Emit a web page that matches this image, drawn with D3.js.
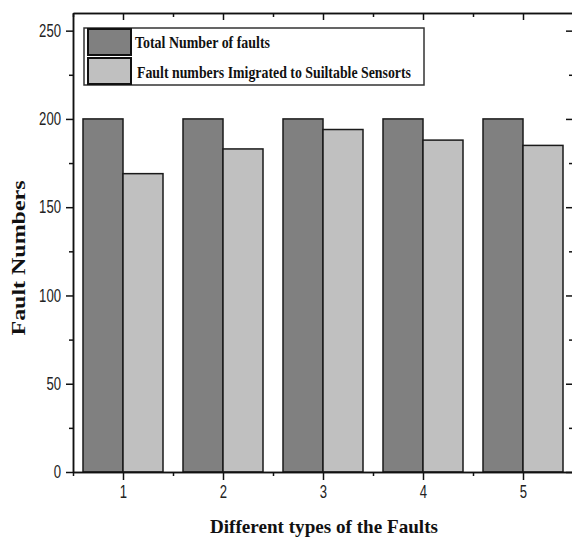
<!DOCTYPE html>
<html>
<head>
<meta charset="utf-8">
<script src="https://cdn.jsdelivr.net/npm/d3@7"></script>
<style>
	body { margin: 0; background: #fff; }
	svg { display: block; }
	.tick text { font-family: "Liberation Sans Narrow", "Arial Narrow", "Liberation Sans", sans-serif; font-size: 18px; fill: #222; }
	.title { font-family: "Liberation Serif", "Times New Roman", serif; font-weight: bold; fill: #111; }
</style>
</head>
<body>
<div id="chart"></div>
<script>
const categories = [1, 2, 3, 4, 5];
const totalFaults = [200, 200, 200, 200, 200];
const migratedFaults = [169, 183, 194, 188, 185];
const yTicks = [0, 50, 100, 150, 200, 250];
const yMinor = [25, 75, 125, 175, 225];
const xMinor = [0.5, 1.5, 2.5, 3.5, 4.5, 5.5];
const seriesNames = ["Total Number of faults", "Fault numbers Imigrated to Suiltable Sensorts"];
const seriesColors = ["#808080", "#c0c0c0"];

let width = 572;
let height = 537;
let margin = { top: 13, right: -1, bottom: 65, left: 73 };

let xScale = d3.scaleLinear()
	.domain([0.5, 5.5])
	.range([margin.left, width - margin.right]);

let yScale = d3.scaleLinear()
	.domain([0, 260])
	.range([height - margin.bottom, margin.top]);

let svg = d3.select("#chart")
	.append("svg")
	.attr("width", width)
	.attr("height", height);

let data = categories.map((c, i) => ({ cat: c, total: totalFaults[i], migrated: migratedFaults[i] }));

// bars
let groups = svg.selectAll("g.bar")
	.data(data)
	.enter()
	.append("g")
	.attr("class", "bar");

groups.append("rect")
	.attr("x", d => xScale(d.cat - 0.4))
	.attr("y", d => yScale(d.total))
	.attr("width", d => xScale(d.cat) - xScale(d.cat - 0.4))
	.attr("height", d => yScale(0) - yScale(d.total))
	.attr("fill", seriesColors[0])
	.attr("stroke", "#1a1a1a")
	.attr("stroke-width", 1.5);

groups.append("rect")
	.attr("x", d => xScale(d.cat))
	.attr("y", d => yScale(d.migrated))
	.attr("width", d => xScale(d.cat + 0.4) - xScale(d.cat))
	.attr("height", d => yScale(0) - yScale(d.migrated))
	.attr("fill", seriesColors[1])
	.attr("stroke", "#1a1a1a")
	.attr("stroke-width", 1.5);

// axes
function styleAxis(g) {
	g.selectAll("path, line").attr("stroke", "#111").attr("stroke-width", 1.5);
	// narrow digits like the original
	g.selectAll("text")
		.attr("textLength", function () { return this.textContent.length * 7.3; })
		.attr("lengthAdjust", "spacingAndGlyphs");
}

svg.append("g")
	.attr("transform", "translate(0," + yScale(0) + ")")
	.call(d3.axisBottom(xScale).tickValues(categories).tickSize(8).tickSizeOuter(0).tickPadding(5).tickFormat(d3.format("d")))
	.call(styleAxis);
svg.append("g")
	.attr("transform", "translate(0," + yScale(0) + ")")
	.call(d3.axisBottom(xScale).tickValues(xMinor).tickSize(4).tickSizeOuter(0).tickFormat(""))
	.call(styleAxis);

svg.append("g")
	.attr("transform", "translate(0," + margin.top + ")")
	.call(d3.axisTop(xScale).tickValues(categories).tickSize(-7).tickSizeOuter(0).tickFormat(""))
	.call(styleAxis);
svg.append("g")
	.attr("transform", "translate(0," + margin.top + ")")
	.call(d3.axisTop(xScale).tickValues(xMinor).tickSize(-4).tickSizeOuter(0).tickFormat(""))
	.call(styleAxis);

svg.append("g")
	.attr("transform", "translate(" + margin.left + ",0)")
	.call(d3.axisLeft(yScale).tickValues(yTicks).tickSize(7).tickSizeOuter(0).tickPadding(5))
	.call(styleAxis);
svg.append("g")
	.attr("transform", "translate(" + margin.left + ",0)")
	.call(d3.axisLeft(yScale).tickValues(yMinor).tickSize(4).tickSizeOuter(0).tickFormat(""))
	.call(styleAxis);

svg.append("g")
	.attr("transform", "translate(" + (width - margin.right) + ",0)")
	.call(d3.axisRight(yScale).tickValues(yTicks).tickSize(-7).tickSizeOuter(0).tickFormat(""))
	.call(styleAxis);
svg.append("g")
	.attr("transform", "translate(" + (width - margin.right) + ",0)")
	.call(d3.axisRight(yScale).tickValues(yMinor).tickSize(-4).tickSizeOuter(0).tickFormat(""))
	.call(styleAxis);

// legend
let legend = svg.append("g").attr("transform", "translate(84,28)");
legend.append("rect")
	.attr("width", 340)
	.attr("height", 57)
	.attr("fill", "#fff")
	.attr("stroke", "#333")
	.attr("stroke-width", 1.5);

seriesNames.forEach((name, i) => {
	legend.append("rect")
		.attr("x", 4)
		.attr("y", 1 + i * 29)
		.attr("width", 43)
		.attr("height", 26)
		.attr("fill", seriesColors[i])
		.attr("stroke", "#111")
		.attr("stroke-width", 2);
	legend.append("text")
		.attr("class", "title")
		.attr("x", i === 0 ? 51 : 53)
		.attr("y", 20 + i * 30)
		.attr("font-size", 17)
		.attr("textLength", i === 0 ? 135 : 274)
		.attr("lengthAdjust", "spacingAndGlyphs")
		.text(name);
});

// X-axis label
svg.append("text")
	.attr("class", "title")
	.attr("x", 324)
	.attr("y", 533)
	.attr("font-size", 19)
	.attr("text-anchor", "middle")
	.attr("textLength", 228)
	.attr("lengthAdjust", "spacingAndGlyphs")
	.text("Different types of the Faults");

// Y-axis label
svg.append("text")
	.attr("class", "title")
	.attr("transform", "translate(25,258) rotate(-90)")
	.attr("font-size", 19)
	.attr("text-anchor", "middle")
	.attr("textLength", 155)
	.attr("lengthAdjust", "spacingAndGlyphs")
	.text("Fault Numbers");
</script>
</body>
</html>
